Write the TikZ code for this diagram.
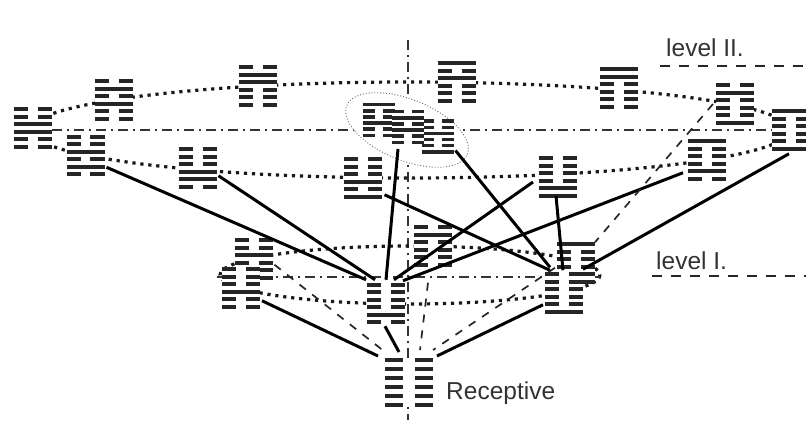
\documentclass[tikz,border=0pt]{standalone}
\usepackage{fontspec}
\usetikzlibrary{shapes.geometric}
\setmainfont{Liberation Sans}
\newlength{\hexw}\newlength{\hexg}\newlength{\hexb}\newlength{\hexs}
\newcommand{\hexline}[1]{%
  \hbox to \hexw{\ifnum#1=1 \vrule width\hexw height\hexb depth0pt
    \else \vrule width\dimexpr(\hexw-\hexg)/2\relax height\hexb depth0pt\hfil
    \vrule width\dimexpr(\hexw-\hexg)/2\relax height\hexb depth0pt\fi}}
\newcommand{\hexgram}[6]{\vbox{\offinterlineskip\hexline{#1}\vskip\hexs\hexline{#2}\vskip\hexs\hexline{#3}\vskip\hexs\hexline{#4}\vskip\hexs\hexline{#5}\vskip\hexs\hexline{#6}}}
\tikzset{
  hexnode/.style={inner sep=0pt,outer sep=0pt,fill=white,text=black!85},
  dotline/.style={line width=3.2pt,dash pattern=on 3.2pt off 4.8pt,black!90},
  axis/.style={line width=1.1pt,dash pattern=on 10pt off 5pt on 2pt off 5pt,black!80},
  solidlink/.style={line width=3pt,black},
  dashlink/.style={line width=1.7pt,dash pattern=on 8pt off 8pt,black!85},
  leveldash/.style={line width=1.3pt,dash pattern=on 10pt off 9pt,black!85},
  lab/.style={inner sep=0pt,anchor=base west,font=\fontsize{24.5}{24.5}\selectfont,text=black!80},
}
\begin{document}
\begin{tikzpicture}[x=1pt,y=-1pt]
\useasboundingbox (0,0) rectangle (806,425);
\clip (0,0) rectangle (806,425);
\setlength{\hexw}{38pt}\setlength{\hexg}{10pt}\setlength{\hexb}{4pt}\setlength{\hexs}{3.5pt}
% centre axes and level rings
\coordinate (vtop) at (408,40);
\coordinate (vbot) at (408,420);
\draw[axis] (vtop) -- (vbot);
\draw[dotline] (410,130) ellipse [x radius=380,y radius=48];
\draw[dotline] (410,275) ellipse [x radius=190,y radius=29];
\coordinate (hIIa) at (52,130);
\coordinate (hIIb) at (772,130);
\coordinate (hIa) at (217,277);
\coordinate (hIb) at (600,277);
\draw[axis] (hIIa) -- (hIIb);
\draw[axis] (hIa) -- (hIb);
% selection oval
\node[draw=black!60,fill=white,line width=.9pt,dotted,ellipse,inner sep=0pt,outer sep=0pt,minimum width=130pt,minimum height=61pt,rotate=-22] (oval) at (407,130) {};
% level II
\node[hexnode] (A) at (32.5,128) {\hexgram001100};
\node[hexnode] (B) at (113.5,100) {\hexgram010100};
\node[hexnode] (C) at (258,86) {\hexgram011000};
\node[hexnode] (D) at (85.5,155.5) {\hexgram001010};
\node[hexnode] (E) at (197.5,168) {\hexgram000110};
\node[hexnode] (F) at (456.5,82) {\hexgram101000};
\node[hexnode] (J) at (362.5,178) {\hexgram000101};
\node[hexnode] (K) at (618.5,88) {\hexgram110000};
\node[hexnode] (L) at (735,104) {\hexgram010001};
\node[hexnode] (M) at (791,130) {\hexgram100001};
\node[hexnode] (N) at (707,160) {\hexgram100010};
\node[hexnode] (O) at (558,177) {\hexgram000011};
% inside oval
\setlength{\hexw}{32pt}\setlength{\hexg}{8pt}\setlength{\hexb}{3.5pt}\setlength{\hexs}{2.6pt}
\node[hexnode] (G) at (378.5,120) {\hexgram100100};
\node[hexnode] (I) at (437.5,136.5) {\hexgram001001};
\node[hexnode] (H) at (408,127) {\hexgram010100};
\setlength{\hexw}{38pt}\setlength{\hexg}{10pt}\setlength{\hexb}{4pt}\setlength{\hexs}{3.5pt}
% level I
\node[hexnode] (P) at (253.5,259) {\hexgram001000};
\node[hexnode] (Q) at (241,288) {\hexgram000100};
\node[hexnode] (T) at (433,246) {\hexgram010000};
\node[hexnode] (V) at (576,263) {\hexgram100000};
\node[hexnode] (R) at (386,303.5) {\hexgram000010};
\node[hexnode] (U) at (564,293) {\hexgram000001};
% receptive
\setlength{\hexw}{48pt}\setlength{\hexg}{12pt}\setlength{\hexb}{4pt}\setlength{\hexs}{5pt}
\node[hexnode] (S) at (409,382.5) {\hexgram000000};
% solid links
\draw[solidlink] ([xshift=2pt,yshift=9pt]D.south east) -- ([xshift=-1pt,yshift=3pt]R.north west);
\draw[solidlink] ([yshift=13pt,xshift=2pt]E.south east) -- ([xshift=8pt,yshift=3pt]R.north west);
\draw[solidlink] ([yshift=-5pt,xshift=-10pt]H.south) -- ([yshift=3pt]R.north);
\draw[solidlink] ([xshift=-6pt,yshift=-5pt]O.west) -- ([xshift=-11pt,yshift=3pt]R.north east);
\draw[solidlink] ([xshift=-5pt,yshift=8pt]N.south west) -- ([xshift=-2pt,yshift=2pt]R.north east);
\draw[solidlink] ([xshift=3pt,yshift=4pt]J.south east) -- ([xshift=5pt,yshift=2pt]U.north west);
\draw[solidlink] ([xshift=2pt,yshift=3pt]I.south east) -- ([xshift=5pt,yshift=5pt]U.north west);
\draw[solidlink] ([xshift=-2pt,yshift=2pt]O.south) -- ([xshift=-1pt,yshift=2pt]U.north);
\draw[solidlink] ([xshift=-2pt,yshift=-3pt]M.south) -- ([xshift=0pt,yshift=3pt]U.north east);
\draw[solidlink] ([xshift=2pt,yshift=8pt]Q.south east) -- ([xshift=-7pt,yshift=2pt]S.north west);
\draw[solidlink] ([xshift=-1pt,yshift=-2pt]R.south) -- ([xshift=-10pt,yshift=6pt]S.north);
\draw[solidlink] ([xshift=-2pt,yshift=9pt]U.south west) -- ([xshift=4pt,yshift=2pt]S.north east);
% dashed links
\draw[dashlink] ([xshift=2pt,yshift=15pt]P.south east) -- ([xshift=0pt,yshift=6pt]S.north west);
\draw[dashlink] ([xshift=-5pt,yshift=-16pt]T.south) -- ([xshift=11pt,yshift=8pt]S.north);
\draw[dashlink] ([xshift=-2pt,yshift=16pt]V.south west) -- ([xshift=0pt,yshift=8pt]S.north east);
\draw[dashlink] ([xshift=-3pt]L.west) -- (V.north east);
% labels
\node[lab] (l2) at (666,57) {level II.};
\node[lab] (l1) at (656,269) {level I.};
\node[lab] (rc) at (446,399) {Receptive};
\coordinate (d2a) at (660,66);
\coordinate (d2b) at (806,66);
\coordinate (d1a) at (652,276);
\coordinate (d1b) at (806,276);
\draw[leveldash] (d2a) -- (d2b);
\draw[leveldash] (d1a) -- (d1b);
\end{tikzpicture}
\end{document}
